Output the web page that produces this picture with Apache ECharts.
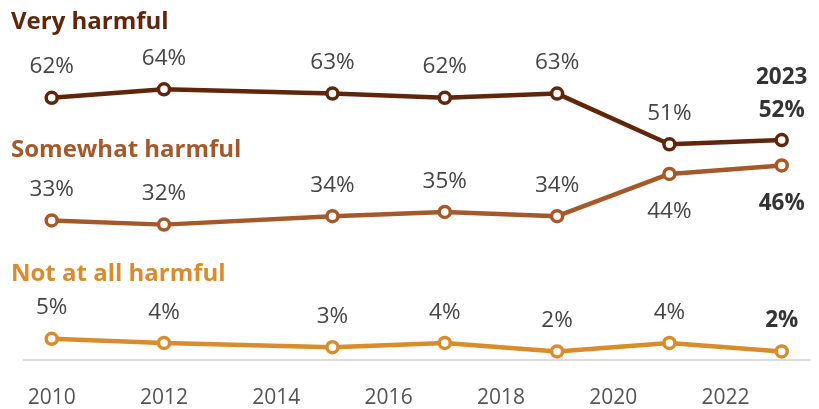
<!DOCTYPE html>
<html>
<head>
<meta charset="utf-8">
<script src="https://cdn.jsdelivr.net/npm/echarts@6/dist/echarts.min.js"></script>
<style>
  html, body { margin: 0; padding: 0; background: #fff; }
  #chart { width: 819px; height: 409px; }
</style>
</head>
<body>
<div id="chart"></div>
<script>
// Survey years and shares (%) for each answer
const years = [2010, 2012, 2015, 2017, 2019, 2021, 2023];
const veryHarmful = [62, 64, 63, 62, 63, 51, 52];
const somewhatHarmful = [33, 32, 34, 35, 34, 44, 46];
const notAtAllHarmful = [5, 4, 3, 4, 2, 4, 2];
const tickYears = [2010, 2012, 2014, 2016, 2018, 2020, 2022];

const FONT = '"Open Sans", "Noto Sans", sans-serif';
const COLORS = {
  very: '#5f260b',
  somewhat: '#a5592a',
  notAtAll: '#da8b2b'
};

// Which points get their label under the line instead of above it
const belowPoints = { somewhat: [5, 6] };

function buildData(values, key) {
  const last = values.length - 1;
  return values.map((v, i) => {
    const item = { value: [years[i], v] };
    const below = (belowPoints[key] || []).includes(i);
    const label = below ? { position: 'bottom', distance: 19 } : { position: 'top' };
    if (i === last) {
      label.fontWeight = 'bold';
      label.color = '#333';
      if (key === 'very') {
        label.formatter = years[i] + '\n' + v + '%';
        label.lineHeight = 33;
        label.distance = 6;
      }
    }
    item.label = label;
    return item;
  });
}

function makeSeries(name, values, key) {
  return {
    name: name,
    type: 'line',
    data: buildData(values, key),
    symbol: 'circle',
    symbolSize: 11,
    showAllSymbol: true,
    lineStyle: { color: COLORS[key], width: 4.5 },
    itemStyle: { color: '#fff', borderColor: COLORS[key], borderWidth: 3.5 },
    label: {
      show: true,
      formatter: p => p.value[1] + '%',
      fontFamily: FONT,
      fontSize: 22.5,
      color: '#454545',
      distance: 12
    },
    emphasis: { disabled: true },
    z: 3
  };
}

const titleStyle = color => ({ color: color, fontFamily: FONT, fontWeight: 'bold', fontSize: 24 });

const chart = echarts.init(document.getElementById('chart'));
chart.setOption({
  animation: false,
  title: [
    { text: 'Very harmful', left: 6, top: 5, textStyle: titleStyle(COLORS.very) },
    { text: 'Somewhat harmful', left: 6, top: 133, textStyle: titleStyle(COLORS.somewhat) },
    { text: 'Not at all harmful', left: 6, top: 257, textStyle: titleStyle(COLORS.notAtAll) }
  ],
  grid: { left: 23.6, right: 9.2, top: 64, bottom: 46, containLabel: false },
  xAxis: {
    type: 'value',
    min: 2009.5,
    max: 2023.5,
    axisLine: { show: true, lineStyle: { color: '#dcdcdc', width: 2 } },
    axisTick: { show: false },
    splitLine: { show: false },
    axisLabel: {
      customValues: tickYears,
      formatter: v => String(v),
      fontFamily: FONT,
      fontSize: 21,
      color: '#555',
      margin: 26
    }
  },
  yAxis: {
    type: 'value',
    min: -0.5,
    max: 70,
    show: false,
    splitLine: { show: false }
  },
  series: [
    makeSeries('Very harmful', veryHarmful, 'very'),
    makeSeries('Somewhat harmful', somewhatHarmful, 'somewhat'),
    makeSeries('Not at all harmful', notAtAllHarmful, 'notAtAll')
  ]
});
</script>
</body>
</html>
